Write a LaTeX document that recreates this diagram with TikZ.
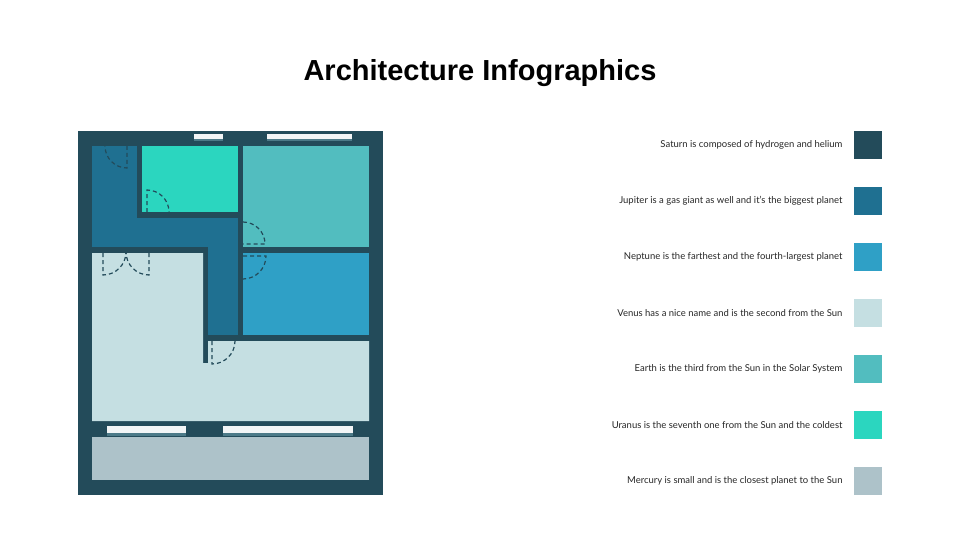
\documentclass[tikz,border=0pt]{standalone}
\usepackage{fontspec}
\setmainfont{Liberation Sans}
\newfontfamily\lfont{Lato}
\definecolor{cSat}{HTML}{234B5A}
\definecolor{cJup}{HTML}{1F7091}
\definecolor{cNep}{HTML}{2FA0C6}
\definecolor{cVen}{HTML}{C5DFE2}
\definecolor{cEar}{HTML}{52BDBF}
\definecolor{cUra}{HTML}{2BD6BF}
\definecolor{cMer}{HTML}{ADC2C9}
\definecolor{cWin}{HTML}{F2F5F6}
\definecolor{cSill}{HTML}{4C7A88}
\begin{document}
\begin{tikzpicture}[x=1pt,y=-1pt,
  door/.style={draw=cSat,dashed,dash pattern=on 4pt off 3pt,line width=1.2pt},
  sw/.style={minimum width=28pt,minimum height=28pt,inner sep=0pt,draw=none},
  lbl/.style={anchor=east,font=\lfont\fontsize{9.5}{11}\selectfont,text=black!85}]
\useasboundingbox (0,0) rectangle (960,540);
\node[font=\bfseries\fontsize{29}{34}\selectfont] (title) at (480,73) {Architecture Infographics};
% outer
\fill[cSat] (78,131) rectangle (383,495);
\fill[cSill] (194,134) rectangle (223,141);
\fill[cSill] (267,134) rectangle (352,141);
\fill[cWin] (194,134) rectangle (223,139);
\fill[cWin] (267,134) rectangle (352,139);
% corridor
\fill[cJup] (92,146) rectangle (238,247);
\fill[cJup] (208,247) rectangle (238,335);
% cyan room
\fill[cSat] (137,146) rectangle (238,218);
\fill[cUra] (142,146) rectangle (238,212);
\fill[cEar] (243,146) rectangle (369,247);
\fill[cNep] (243,253) rectangle (369,335);
\fill[cVen] (92,253) -- (203,253) -- (203,363) -- (208,363) -- (208,341) -- (369,341) -- (369,421) -- (92,421) -- cycle;
% bottom windows
\fill[cSill] (107,426) rectangle (186,436);
\fill[cSill] (223,426) rectangle (353,436);
\fill[cWin] (107,426) rectangle (186,433);
\fill[cWin] (223,426) rectangle (353,433);
\fill[cMer] (92,437) rectangle (369,480);
% doors
\draw[door] (127,146) -- (127,168) arc (90:180:22);
\draw[door] (147,212) -- (147,190) arc (270:360:22);
\draw[door] (243,222) arc (270:360:22) -- (243,244);
\draw[door] (243,256) -- (266,256) arc (0:90:23);
\draw[door] (103,253) -- (103,275) arc (90:0:23);
\draw[door] (149,253) -- (149,275) arc (90:180:23);
\draw[door] (212,341) -- (212,364) arc (90:0:23);
% legend
\foreach \n/\c/\y/\t in {s/cSat/145/{Saturn is composed of hydrogen and helium},
  j/cJup/201/{Jupiter is a gas giant as well and it’s the biggest planet},
  ne/cNep/257/{Neptune is the farthest and the fourth-largest planet},
  v/cVen/313/{Venus has a nice name and is the second from the Sun},
  e/cEar/369/{Earth is the third from the Sun in the Solar System},
  u/cUra/425/{Uranus is the seventh one from the Sun and the coldest},
  m/cMer/481/{Mercury is small and is the closest planet to the Sun}}{
  \node[sw,fill=\c] (sw\n) at (868,\y) {};
  \node[lbl] (t\n) at (846,\y) {\t};
}
\end{tikzpicture}
\end{document}
